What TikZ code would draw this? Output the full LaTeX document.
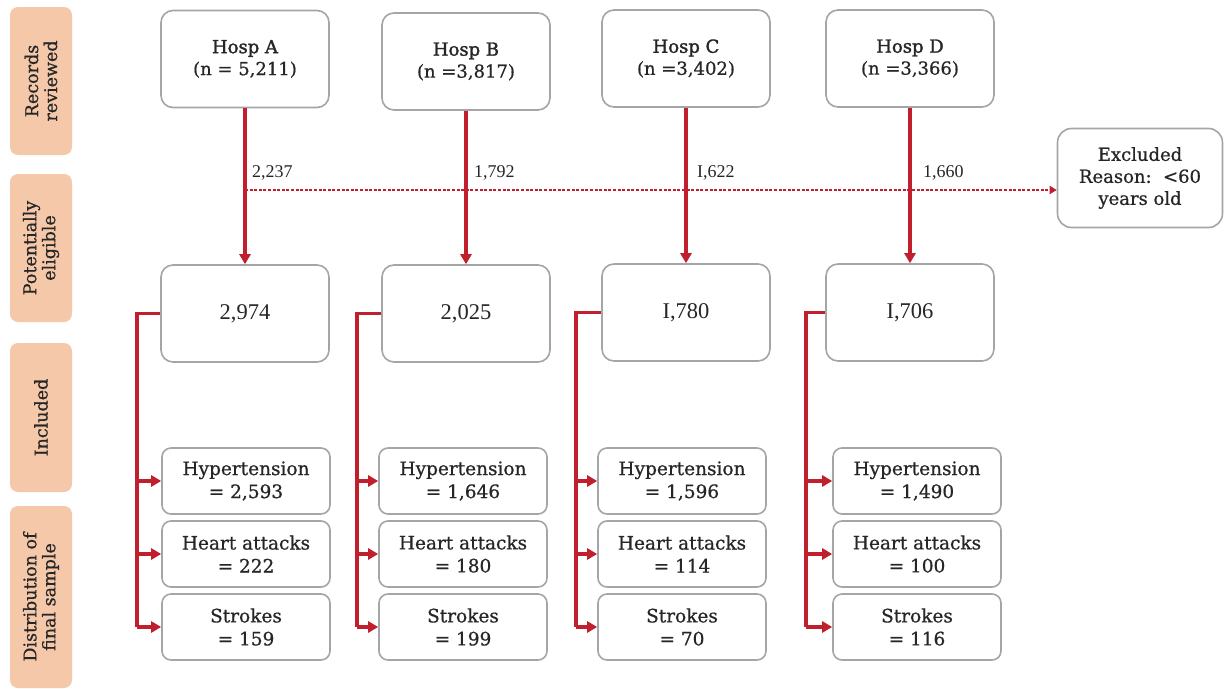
\documentclass[tikz,border=0pt]{standalone}
\usepackage{fontspec}
\setmainfont{DejaVu Serif}[FakeBold=0.7]
\newfontfamily\numfont{Liberation Serif}
\newfontfamily\boldhead{DejaVu Serif}[FakeBold=1.6]
\usetikzlibrary{arrows.meta}
\definecolor{myred}{RGB}{192,32,46}
\definecolor{boxgray}{RGB}{165,165,165}
\definecolor{peach}{RGB}{245,200,170}
\definecolor{txt}{RGB}{38,38,38}
\tikzset{
  bigbox/.style={draw=boxgray, line width=1.6pt, rounded corners=12pt, fill=white,
    align=center, text=txt, inner sep=0pt, minimum width=168pt, minimum height=97pt,
    font=\fontsize{18}{22}\selectfont},
  numbox/.style={bigbox, font=\numfont\fontsize{22.5}{26}\selectfont},
  smallbox/.style={draw=boxgray, line width=1.6pt, rounded corners=9pt, fill=white,
    align=center, text=txt, inner sep=0pt, minimum width=168pt, minimum height=66pt,
    font=\fontsize{18.5}{23}\selectfont},
  band/.style={fill=peach, rounded corners=8pt, rotate=90, align=center, text=txt,
    inner sep=0pt, minimum height=62pt, font=\fontsize{17.5}{19}\selectfont},
  redline/.style={draw=myred, line width=3.2pt},
  redarrow/.style={redline, -{Triangle[length=10pt,width=11pt]}},
  dotline/.style={draw=myred, line width=2.2pt, dash pattern=on 3pt off 1.6pt,
    -{Triangle[length=7pt,width=8pt]}},
  cnt/.style={text=txt, font=\numfont\fontsize{18}{22}\selectfont, anchor=west, inner sep=0pt}
}
\begin{document}
\begin{tikzpicture}[x=1pt,y=-1pt]
\useasboundingbox (0,0) rectangle (1225,688);
% bands
\node[band, minimum width=148pt] (b1) at (41,81) {Records\\reviewed};
\node[band, minimum width=148pt] (b2) at (41,248) {Potentially\\eligible};
\node[band, minimum width=149pt] (b3) at (41,417.5) {Included};
\node[band, minimum width=182pt] (b4) at (41,597) {Distribution of\\final sample};
% top boxes
\node[bigbox] (ha) at (245,59) {{\boldhead Hosp A}\\(n = 5,211)};
\node[bigbox] (hb) at (466,61.5) {{\boldhead Hosp B}\\(n =3,817)};
\node[bigbox] (hc) at (686,58.5) {{\boldhead Hosp C}\\(n =3,402)};
\node[bigbox] (hd) at (910,58.5) {{\boldhead Hosp D}\\(n =3,366)};
% excluded
\node[bigbox, minimum width=165pt, minimum height=99pt, rounded corners=14pt] (ex) at (1140,178) {Excluded\\Reason:\ \ <60\\years old};
% middle boxes
\node[numbox] (ma) at (245,313.5) {2,974};
\node[numbox] (mb) at (466,313.5) {2,025};
\node[numbox] (mc) at (686,312.5) {I,780};
\node[numbox] (md) at (910,312.5) {I,706};
% vertical arrows
\draw[redarrow] (ha.south) -- (ma.north);
\draw[redarrow] (hb.south) -- (mb.north);
\draw[redarrow] (hc.south) -- (mc.north);
\draw[redarrow] (hd.south) -- (md.north);
% counts
\node[cnt] (ca) at (252,173) {2,237};
\node[cnt] (cb) at (474,173) {1,792};
\node[cnt] (cc) at (697,173) {I,622};
\node[cnt] (cd) at (923,173) {1,660};
% dotted excluded line
\coordinate (d0) at (245,190);
\draw[dotline] (d0) -- (d0 -| ex.west);
% bottom boxes
\node[smallbox] (a1) at (246,481) {Hypertension\\= 2,593};
\node[smallbox] (a2) at (246,554) {Heart attacks\\= 222};
\node[smallbox] (a3) at (246,627) {Strokes\\= 159};
\node[smallbox] (b1x) at (463,481) {Hypertension\\= 1,646};
\node[smallbox] (b2x) at (463,554) {Heart attacks\\= 180};
\node[smallbox] (b3x) at (463,627) {Strokes\\= 199};
\node[smallbox] (c1) at (682,481) {Hypertension\\= 1,596};
\node[smallbox] (c2) at (682,554) {Heart attacks\\= 114};
\node[smallbox] (c3) at (682,627) {Strokes\\= 70};
\node[smallbox] (d1) at (917,481) {Hypertension\\= 1,490};
\node[smallbox] (d2) at (917,554) {Heart attacks\\= 100};
\node[smallbox] (d3) at (917,627) {Strokes\\= 116};
% brackets
\coordinate (ja) at (137,0);
\coordinate (jb) at (357,0);
\coordinate (jc) at (576,0);
\coordinate (jd) at (806,0);
\draw[redline] (ma.west) -| (ja |- a3.west);
\draw[redarrow] (ja |- a1.west) -- (a1.west);
\draw[redarrow] (ja |- a2.west) -- (a2.west);
\draw[redarrow] (ja |- a3.west) -- (a3.west);
\draw[redline] (mb.west) -| (jb |- b3x.west);
\draw[redarrow] (jb |- b1x.west) -- (b1x.west);
\draw[redarrow] (jb |- b2x.west) -- (b2x.west);
\draw[redarrow] (jb |- b3x.west) -- (b3x.west);
\draw[redline] (mc.west) -| (jc |- c3.west);
\draw[redarrow] (jc |- c1.west) -- (c1.west);
\draw[redarrow] (jc |- c2.west) -- (c2.west);
\draw[redarrow] (jc |- c3.west) -- (c3.west);
\draw[redline] (md.west) -| (jd |- d3.west);
\draw[redarrow] (jd |- d1.west) -- (d1.west);
\draw[redarrow] (jd |- d2.west) -- (d2.west);
\draw[redarrow] (jd |- d3.west) -- (d3.west);
\end{tikzpicture}
\end{document}
